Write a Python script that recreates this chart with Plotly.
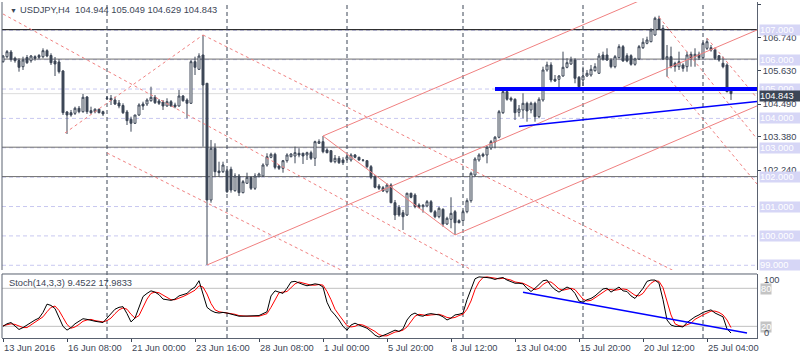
import plotly.graph_objects as go

# ---------------- data ----------------
open_ = [105.931,106.101,106.261,106.047,105.972,105.761,106.074,105.965,106.101,106.142,
         106.101,106.306,106.142,105.955,105.921,105.614,104.219,104.195,104.174,104.345,
         104.229,104.729,104.263,104.229,104.311,104.229,104.678,104.685,104.627,104.525,
         104.440,104.219,103.970,103.834,104.117,104.491,104.491,104.603,104.719,104.593,
         104.559,104.423,104.569,104.457,104.423,104.763,104.627,104.515,105.931,105.672,
         106.159,105.196,101.223,102.983,102.210,102.186,102.220,102.268,101.540,102.040,
         101.472,101.792,101.996,101.621,102.016,102.040,102.414,102.677,102.779,102.380,
         102.302,102.561,102.697,102.721,102.813,102.813,102.755,102.833,102.643,103.153,
         103.208,102.925,102.901,102.527,102.643,102.585,102.609,102.585,102.755,102.677,
         102.585,102.561,102.357,102.016,101.700,101.642,101.506,101.734,101.131,100.975,
         100.791,100.712,101.451,101.393,101.053,100.995,101.019,101.165,100.825,100.654,
         100.906,100.406,100.566,100.825,100.518,100.518,100.825,101.199,102.074,102.585,
         102.779,102.755,102.993,103.198,103.358,104.195,104.910,104.685,104.651,104.209,
         104.287,104.515,104.287,104.515,104.059,104.627,105.649,105.819,105.332,105.332,
         105.444,105.740,105.853,105.989,105.400,105.308,105.444,105.478,105.625,105.536,
         106.159,106.159,105.989,105.761,106.067,106.442,106.135,106.135,105.843,106.023,
         106.408,106.557,106.612,106.840,107.385,107.068,106.023,106.101,105.877,105.761,
         105.819,105.761,106.183,106.101,106.183,106.067,106.387,106.408,106.329,106.135,
         105.877,105.819,104.944]
high = [106.159,106.329,106.329,106.101,106.047,106.101,106.159,106.159,106.149,106.193,
        106.387,106.353,106.217,106.091,106.013,105.649,104.253,104.287,104.399,104.423,
        104.831,104.763,104.399,104.345,104.331,104.263,104.763,104.797,104.740,104.627,
        104.515,104.287,104.059,104.117,104.515,104.569,104.685,105.080,104.797,104.661,
        104.627,104.685,104.627,104.535,104.968,104.797,104.685,105.989,106.101,106.217,
        106.840,105.206,103.266,103.153,102.527,102.527,102.278,102.357,102.132,102.108,
        101.904,102.152,102.016,102.132,102.152,102.472,102.813,102.833,102.833,102.414,
        102.585,102.813,102.813,103.038,102.983,102.833,102.867,102.901,103.242,103.289,
        103.402,102.983,102.925,102.755,102.721,102.677,102.755,102.813,102.789,102.697,
        102.609,102.585,102.414,102.074,101.768,101.700,101.792,101.792,101.223,101.053,
        100.883,101.472,101.472,101.451,101.111,101.087,101.223,101.223,100.883,100.995,
        100.940,100.654,101.315,100.883,100.566,100.883,101.281,102.186,102.677,102.813,
        102.833,103.061,103.266,103.402,104.287,104.968,104.968,104.740,104.685,104.457,
        104.855,104.569,104.569,104.569,104.719,105.761,105.931,105.911,105.478,105.478,
        106.272,106.047,106.101,106.047,105.444,105.761,105.649,105.819,105.877,106.217,
        106.272,106.387,106.047,106.159,106.523,106.500,106.217,106.183,106.067,106.500,
        106.728,106.782,107.068,107.463,107.497,107.180,106.500,106.442,105.931,106.272,
        105.877,106.272,106.272,106.387,106.272,106.612,106.728,106.500,106.387,106.159,
        106.101,105.877,105.049]
low = [105.897,106.047,105.931,105.897,105.591,105.649,105.853,105.897,105.965,106.023,
       106.047,106.081,105.819,105.444,105.529,104.117,103.470,104.059,104.117,104.174,
       104.195,104.151,104.151,104.174,104.174,104.083,104.627,104.457,104.457,104.345,
       104.151,103.776,103.548,103.810,104.083,104.287,104.423,104.569,104.491,104.457,
       104.287,104.399,104.399,104.345,104.399,104.569,104.004,104.491,105.478,105.649,
       103.038,99.010,101.131,102.016,102.016,102.142,101.461,101.472,101.506,101.359,
       101.451,101.768,101.563,101.563,101.996,102.016,102.357,102.643,102.268,102.244,
       102.152,102.493,102.677,102.472,102.677,102.449,102.585,102.585,102.380,103.129,
       102.813,102.813,102.493,102.472,102.449,102.414,102.561,102.527,102.643,102.561,
       102.527,102.302,101.928,101.621,101.563,101.495,101.451,101.111,100.542,100.654,
       100.202,100.678,101.281,100.940,100.940,100.791,100.975,100.791,100.600,100.600,
       100.314,100.372,100.260,100.032,100.430,100.484,100.770,101.131,102.016,102.527,
       102.677,102.472,102.925,102.983,103.323,104.151,104.603,104.569,103.946,104.059,
       104.004,103.889,104.174,103.889,104.004,104.569,105.591,105.230,105.240,105.026,
       105.420,105.706,105.819,105.196,105.026,105.104,105.420,105.420,105.591,105.512,
       105.965,105.955,105.706,105.706,106.047,105.931,105.911,105.795,105.795,105.989,
       106.363,106.523,106.592,106.816,107.010,105.989,105.420,105.706,105.591,105.649,
       105.591,105.591,105.761,105.761,105.989,106.023,106.329,106.272,105.989,105.931,
       105.706,104.889,104.629]
close = [106.125,106.272,106.013,105.965,105.740,105.989,105.897,106.125,106.047,106.081,
         106.306,106.125,105.897,105.853,105.591,104.195,104.117,104.117,104.345,104.229,
         104.719,104.229,104.195,104.311,104.195,104.151,104.695,104.627,104.491,104.423,
         104.195,103.923,103.834,104.117,104.457,104.423,104.627,104.719,104.535,104.515,
         104.423,104.569,104.423,104.399,104.763,104.603,104.515,105.931,105.740,106.125,
         105.138,101.223,102.983,102.186,102.152,102.414,101.506,101.563,102.040,101.472,
         101.846,101.996,101.621,102.040,102.108,102.414,102.697,102.779,102.336,102.302,
         102.561,102.755,102.789,102.833,102.755,102.721,102.833,102.643,103.208,103.208,
         102.867,102.833,102.527,102.643,102.493,102.493,102.697,102.755,102.677,102.585,
         102.575,102.357,101.996,101.655,101.621,101.529,101.734,101.131,100.712,100.712,
         100.654,101.451,101.315,100.995,100.975,101.043,101.165,100.825,100.654,100.940,
         100.406,100.600,100.770,100.450,100.450,100.825,101.199,102.132,102.619,102.755,
         102.721,103.017,103.208,103.358,104.229,104.910,104.651,104.627,104.195,104.321,
         104.515,104.253,104.515,104.059,104.651,105.649,105.819,105.308,105.274,105.444,
         105.740,105.897,105.989,105.366,105.080,105.444,105.536,105.672,105.761,106.125,
         106.013,105.989,105.761,106.101,106.442,105.955,105.955,105.843,106.023,106.442,
         106.592,106.670,107.010,107.409,107.044,106.023,106.101,105.761,105.761,105.931,
         105.706,106.159,106.047,106.183,106.067,106.557,106.612,106.329,106.047,105.989,
         105.761,104.910,104.843]

stoch_k = [20,24,26,20,15,18,22,27,30,33,42,55,53,48,35,20,14,18,24,28,
           32,31,29,28,27,26,33,40,47,50,51,40,27,33,50,67,72,76,74,70,
           63,62,61,63,68,70,72,78,82,92,72,50,45,42,41,42,41,39,37,36,
           36,36,36,36,37,40,43,68,76,74,72,80,90,91,88,86,84,85,87,86,
           82,58,45,38,30,20,14,22,25,22,19,17,12,6,3,5,8,11,14,12,
           16,30,38,41,37,36,39,40,39,38,35,30,33,38,39,41,62,78,95,98,
           98,97,96,94,96,97,93,90,88,88,87,80,75,80,86,92,93,84,78,74,
           78,82,79,72,60,58,62,64,68,74,79,80,74,78,82,76,75,68,64,72,
           80,91,93,93,88,62,30,22,20,20,19,26,31,35,38,42,44,46,41,38,
           35,16,9.4522]
stoch_d = [21,22,24,23,20,18,18,22,26,30,35,43,50,52,45,34,23,17,19,23,
           28,30,31,29,28,27,29,33,40,46,49,47,39,33,37,50,63,72,74,73,
           69,65,62,62,64,67,70,73,77,84,82,71,56,46,43,42,41,41,39,37,
           36,36,36,36,36,38,40,50,62,73,74,75,81,87,90,88,86,85,85,86,
           85,75,62,47,38,29,21,19,20,23,22,19,16,12,7,5,5,8,11,12,
           14,19,28,36,39,38,37,38,39,39,37,34,33,34,37,39,47,60,78,90,
           97,98,97,96,95,96,95,93,90,89,88,85,81,78,80,86,90,90,85,79,
           77,78,80,78,70,63,60,61,65,69,74,78,78,77,78,79,78,73,69,68,
           72,81,88,92,91,81,60,38,24,21,20,22,25,31,35,38,41,44,44,42,
           38,30,17.9833]

tick_labels = ["13 Jun 2016", "16 Jun 08:00", "21 Jun 00:00", "23 Jun 16:00",
               "28 Jun 08:00", "1 Jul 00:00", "5 Jul 20:00", "8 Jul 12:00",
               "13 Jul 04:00", "15 Jul 20:00", "20 Jul 12:00", "25 Jul 04:00"]
tick_bars = [0, 16, 32, 48, 64, 80, 96, 112, 128, 144, 160, 176]
week_separator_bars = [26, 56, 86, 115, 145, 175]

price_ticks = [107.88, 106.74, 105.63, 104.49, 103.38, 102.24]
level_prices = [107, 106, 105, 104, 103, 102, 101, 100, 99]
solid_levels = [107.0, 106.0, 103.0, 102.0]
last_price = 104.843

# trend objects: (bar0, price0, bar1, price1)
red_solid_lines = [(51, 99.010, 188.5, 107.010), (80, 103.402, 188.5, 109.715),
                   (113, 100.032, 188.5, 104.425), (80, 103.402, 113, 100.032)]
red_dashed_lines = [(0, 107.555, 120, 98.63), (50, 106.840, 170, 98.656),
                    (26, 102.823, 90, 98.465), (15.5, 103.504, 50, 106.840),
                    (166, 105.444, 188.5, 101.768), (164, 107.453, 188.5, 103.300),
                    (176, 106.738, 188.5, 104.695)]
blue_support = (123, 105.0, 188.5, 105.0)
blue_trend = (129, 103.725, 188.5, 104.576)
stoch_trend = (130, 73.8, 186, 9.5)

# ---------------- figure ----------------
bars = list(range(len(close)))
CANDLE = "#3c4656"
TXT = "#3c4656"
FONT = "Liberation Sans, Arial, sans-serif"
FS = 9.3

Y0_MAIN, Y1_MAIN = 98.840, 107.963
Y0_ST, Y1_ST = 1.58, 102.6
X0, X1 = -0.25, 188.5

fig = go.Figure()

fig.add_trace(go.Candlestick(
    x=bars, open=open_, high=high, low=low, close=close,
    increasing=dict(line=dict(color=CANDLE, width=1), fillcolor="white"),
    decreasing=dict(line=dict(color=CANDLE, width=1), fillcolor=CANDLE),
    whiskerwidth=0, hoverinfo="skip", showlegend=False, xaxis="x", yaxis="y"))

def seg(l, color, width, dash=None, yaxis="y"):
    fig.add_trace(go.Scatter(x=[l[0], l[2]], y=[l[1], l[3]], mode="lines",
                             line=dict(color=color, width=width, dash=dash),
                             hoverinfo="skip", showlegend=False, xaxis="x", yaxis=yaxis))

for l in red_dashed_lines:
    seg(l, "#f08080", 1, "3px,3px")
for l in red_solid_lines:
    seg(l, "#f08080", 1)
seg(blue_support, "#0000ff", 4)
seg(blue_trend, "#0000ff", 1.6)

fig.add_trace(go.Scatter(x=bars, y=stoch_d, mode="lines", line=dict(color="#ff0000", width=1),
                         hoverinfo="skip", showlegend=False, xaxis="x", yaxis="y2"))
fig.add_trace(go.Scatter(x=bars, y=stoch_k, mode="lines", line=dict(color="#000000", width=1),
                         hoverinfo="skip", showlegend=False, xaxis="x", yaxis="y2"))
seg(stoch_trend, "#0000ff", 1.4, yaxis="y2")

shapes = []
for p in level_prices:
    shapes.append(dict(type="line", xref="paper", x0=0, x1=1, yref="y", y0=p, y1=p,
                       line=dict(color="#c8c8f0", width=1, dash="4px,3px"), layer="below"))
for p in solid_levels:
    col = "#000000" if p == 107.0 else "#6e6e6e"
    shapes.append(dict(type="line", xref="paper", x0=0, x1=1, yref="y", y0=p + 0.02, y1=p + 0.02,
                       line=dict(color=col, width=1), layer="below"))
shapes.append(dict(type="line", xref="paper", x0=0, x1=1, yref="y", y0=last_price, y1=last_price,
                   line=dict(color="#dcdcdc", width=1), layer="below"))
for v in (80, 20):
    shapes.append(dict(type="line", xref="paper", x0=0, x1=1, yref="y2", y0=v, y1=v,
                       line=dict(color="#c0c0c0", width=1), layer="below"))
for b in week_separator_bars:
    shapes.append(dict(type="line", xref="x", x0=b, x1=b, yref="paper", y0=0, y1=1,
                       line=dict(color="#3c4656", width=1, dash="4px,3px"), layer="below"))
BORDER = "#5a6270"
ST_TOP = 0.1905
MAIN_BOT = 0.2024
shapes.append(dict(type="line", xref="paper", x0=0, x1=0, yref="paper", y0=MAIN_BOT, y1=1,
                   line=dict(color=BORDER, width=1)))
shapes.append(dict(type="line", xref="paper", x0=0, x1=0, yref="paper", y0=0, y1=ST_TOP,
                   line=dict(color=BORDER, width=1)))
shapes.append(dict(type="line", xref="paper", x0=0, x1=1, yref="paper", y0=ST_TOP, y1=ST_TOP,
                   line=dict(color=BORDER, width=1)))

ann = []
# title
ann.append(dict(text="▼", xref="paper", x=0, xshift=6, yref="y", y=107.69, xanchor="left",
                yanchor="middle", showarrow=False, font=dict(family=FONT, size=7, color=TXT)))
ann.append(dict(text="USDJPY,H4  104.944 105.049 104.629 104.843", xref="paper", x=0, xshift=16,
                yref="y", y=107.69, xanchor="left", yanchor="middle", showarrow=False,
                font=dict(family=FONT, size=FS, color=TXT)))
ann.append(dict(text="Stoch(14,3,3) 9.4522 17.9833", xref="paper", x=0, xshift=5,
                yref="y2", y=88.4, xanchor="left", yanchor="middle", showarrow=False,
                font=dict(family=FONT, size=FS, color=TXT)))
# level boxes
for p in level_prices:
    ann.append(dict(text="%.3f" % p, xref="paper", x=1, xshift=2, yref="y", y=p,
                    xanchor="left", yanchor="middle", showarrow=False, align="left",
                    bgcolor="#d6d6f6", borderpad=0, width=40,
                    font=dict(family=FONT, size=FS, color="#ffffff")))
ann.append(dict(text="%.3f" % last_price, xref="paper", x=1, xshift=2, yref="y", y=last_price,
                yshift=-2, xanchor="left", yanchor="middle", showarrow=False, align="left",
                bgcolor="#3c4656", borderpad=0, width=40,
                font=dict(family=FONT, size=FS, color="#ffffff")))
# stoch scale labels
for txt, v, box in (("100", 93.0, False), ("80", 78.5, True), ("20", 19.7, True), ("0", 9.0, False)):
    d = dict(text=txt, xref="paper", x=1, xshift=3 if box else 5, yref="y2", y=v, xanchor="left",
             yanchor="middle", showarrow=False,
             font=dict(family=FONT, size=FS, color="#ffffff" if box else TXT))
    if box:
        d.update(bgcolor="#c4c4c4", borderpad=0)
    ann.append(d)
# time labels
for b, t in zip(tick_bars, tick_labels):
    ann.append(dict(text=t, xref="x", x=b, xshift=-1, yref="paper", y=-0.0298,
                    xanchor="left", yanchor="middle", showarrow=False,
                    font=dict(family=FONT, size=FS, color=TXT)))

fig.update_layout(
    width=800, height=360, margin=dict(l=2, r=43, t=2, b=22),
    paper_bgcolor="white", plot_bgcolor="white", showlegend=False,
    xaxis=dict(range=[X0, X1], anchor="y2", showgrid=False, zeroline=False,
               rangeslider=dict(visible=False), tickmode="array", tickvals=tick_bars,
               ticks="outside", ticklen=3, tickcolor=TXT, showticklabels=False,
               showline=True, linecolor=BORDER, linewidth=1),
    yaxis=dict(domain=[MAIN_BOT, 1], range=[Y0_MAIN, Y1_MAIN], anchor="x", side="right",
               showgrid=False, zeroline=False, tickmode="array", tickvals=price_ticks,
               ticktext=["%.3f" % v for v in price_ticks], ticks="outside", ticklen=3,
               tickcolor=TXT, tickfont=dict(family=FONT, size=FS, color=TXT),
               showline=True, linecolor=BORDER, linewidth=1),
    yaxis2=dict(domain=[0, ST_TOP], range=[Y0_ST, Y1_ST], anchor="x", side="right",
                showgrid=False, zeroline=False, showticklabels=False, ticks="",
                showline=True, linecolor=BORDER, linewidth=1),
    shapes=shapes, annotations=ann,
)

fig.write_html("out.html", config={"displayModeBar": False})
with open("out.html", "r", encoding="utf-8") as fh:
    html = fh.read()
html = html.replace("<head>", "<head><style>html,body{margin:0;padding:0;overflow:hidden;}</style>", 1)
with open("out.html", "w", encoding="utf-8") as fh:
    fh.write(html)
